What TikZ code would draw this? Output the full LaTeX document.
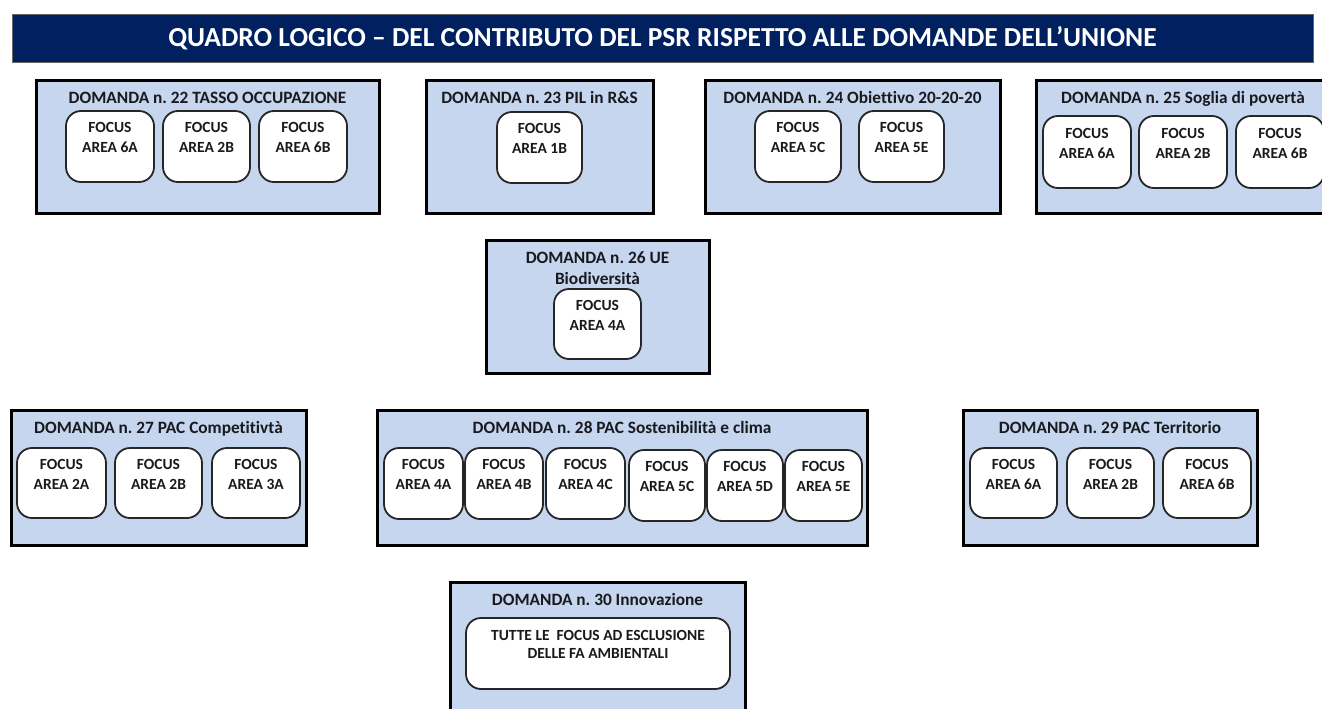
\documentclass[tikz,border=0pt]{standalone}
\usepackage{fontspec}
\setmainfont{Carlito}[Ligatures={NoCommon}]
\definecolor{navy}{RGB}{0,32,96}
\definecolor{qfill}{RGB}{197,214,238}
\definecolor{ink}{RGB}{25,25,30}
\tikzset{
  qbox/.style={rectangle, draw=black, line width=3pt, fill=qfill, inner sep=0pt},
  focus/.style={rectangle, draw=black!85, line width=1.8pt, fill=white, rounded corners=15pt,
     inner sep=0pt, align=center, text=ink, font=\bfseries\fontsize{15.5}{20}\selectfont},
  qlabel/.style={anchor=base, inner sep=0pt, text=ink, font=\bfseries\fontsize{17.3}{21}\selectfont},
  qtitle/.style={anchor=base, inner sep=0pt, text=white, font=\bfseries\fontsize{27.5}{30}\selectfont}
}
\newcommand\mkfocus[6]{\node[focus, minimum width={#4-#2}, minimum height={#5-#3}] (#1) at ({(#2+#4)/2},{(#3+#5)/2}) {#6};}
\newcommand\mkqbox[5]{\node[qbox, minimum width={#4-#2}, minimum height={#5-#3}] (#1) at ({(#2+#4)/2},{(#3+#5)/2}) {};}
\newcommand\fatext[1]{\strut FOCUS\\\strut AREA #1\\[-4pt]\strut}
\begin{document}
\frenchspacing
\begin{tikzpicture}[x=1pt,y=-1pt]
\path[use as bounding box] (0,0) rectangle (1322,709);
\clip (0,0) rectangle (1322,709);
\fill[white] (0,0) rectangle (1322,709);
% title
\node[rectangle, fill=navy, draw=black!60, line width=0.8pt, minimum width=1301, minimum height=48, inner sep=0pt] (titlebar) at (662.5,38) {};
\node[qtitle] (title) at (662.5,47) {QUADRO LOGICO – DEL CONTRIBUTO DEL PSR RISPETTO ALLE DOMANDE DELL’UNIONE};
% row 1
\mkqbox{d22}{36}{80}{379}{213}
\node[qlabel] (l22) at (d22.north |- 0,103) {DOMANDA n. 22 TASSO OCCUPAZIONE};
\mkfocus{f22a}{66}{111}{154}{182}{\fatext{6A}}
\mkfocus{f22b}{163}{111}{250}{182}{\fatext{2B}}
\mkfocus{f22c}{259}{111}{347}{182}{\fatext{6B}}

\mkqbox{d23}{426}{80}{653}{213}
\node[qlabel] (l23) at (d23.north |- 0,103) {DOMANDA n. 23 PIL in R\&S};
\mkfocus{f23a}{497}{112}{582}{183}{\fatext{1B}}

\mkqbox{d24}{705}{80}{1000}{213}
\node[qlabel] (l24) at (d24.north |- 0,103) {DOMANDA n. 24 Obiettivo 20-20-20};
\mkfocus{f24a}{755}{111}{841}{182}{\fatext{5C}}
\mkfocus{f24b}{859}{111}{944}{182}{\fatext{5E}}

\mkqbox{d25}{1036}{80}{1330}{213}
\node[qlabel] (l25) at (d25.north |- 0,103) {DOMANDA n. 25 Soglia di povertà};
\mkfocus{f25a}{1043}{116}{1131}{188}{\fatext{6A}}
\mkfocus{f25b}{1139}{116}{1227}{188}{\fatext{2B}}
\mkfocus{f25c}{1236}{116}{1324}{188}{\fatext{6B}}
% row 2
\mkqbox{d26}{486}{240}{709}{373}
\node[qlabel, anchor=center, align=center] (l26) at (d26.north |- 0,268) {DOMANDA n. 26 UE\\Biodiversità};
\mkfocus{f26a}{554}{289}{641}{359}{\fatext{4A}}
% row 3
\mkqbox{d27}{11}{410}{306}{545}
\node[qlabel] (l27) at (d27.north |- 0,433) {DOMANDA n. 27 PAC Competitivtà};
\mkfocus{f27a}{17}{448}{106}{518}{\fatext{2A}}
\mkfocus{f27b}{115}{448}{202}{518}{\fatext{2B}}
\mkfocus{f27c}{212}{448}{300}{518}{\fatext{3A}}

\mkqbox{d28}{377}{410}{867}{545}
\node[qlabel] (l28) at (d28.north |- 0,433) {DOMANDA n. 28 PAC Sostenibilità e clima};
\mkfocus{f28a}{384}{448}{463}{519}{\fatext{4A}}
\mkfocus{f28b}{465}{448}{543}{519}{\fatext{4B}}
\mkfocus{f28c}{546}{448}{625}{519}{\fatext{4C}}
\mkfocus{f28d}{629}{450}{705}{521}{\fatext{5C}}
\mkfocus{f28e}{707}{450}{783}{521}{\fatext{5D}}
\mkfocus{f28f}{785}{450}{862}{521}{\fatext{5E}}

\mkqbox{d29}{963}{410}{1257}{545}
\node[qlabel] (l29) at (d29.north |- 0,433) {DOMANDA n. 29 PAC Territorio};
\mkfocus{f29a}{970}{448}{1057}{518}{\fatext{6A}}
\mkfocus{f29b}{1067}{448}{1154}{518}{\fatext{2B}}
\mkfocus{f29c}{1163}{448}{1251}{518}{\fatext{6B}}
% row 4
\mkqbox{d30}{450}{582}{745}{730}
\node[qlabel] (l30) at (d30.north |- 0,605) {DOMANDA n. 30 Innovazione};
\mkfocus{f30a}{466}{618}{730}{689}{\strut TUTTE LE\ \ FOCUS AD ESCLUSIONE\\[-2pt]\strut DELLE FA AMBIENTALI\\[-4pt]\strut}
\end{tikzpicture}
\end{document}
